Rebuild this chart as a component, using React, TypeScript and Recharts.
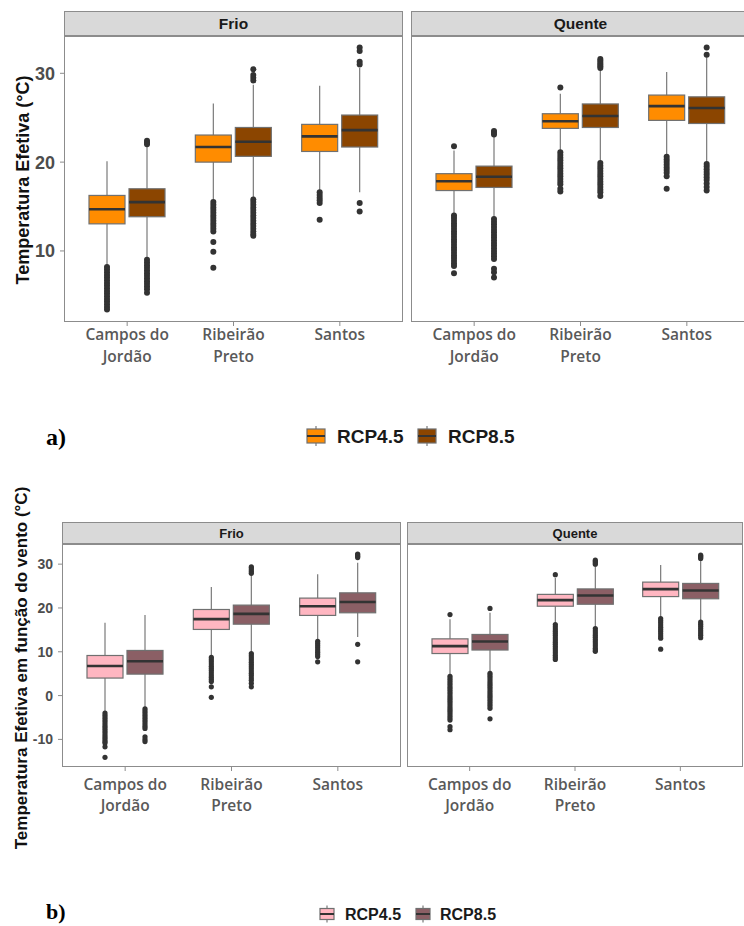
import React from 'react';
import { Bar, ComposedChart, XAxis, YAxis } from 'recharts';

const SANS = '"Liberation Sans", Arial, Helvetica, sans-serif';
const SERIF = '"Liberation Serif", "Times New Roman", serif';
const LABEL_FONT = '"Open Sans", "Noto Sans", sans-serif';

const SITES = ['Campos do Jordão', 'Ribeirão Preto', 'Santos'];
const SITE_LINES = [['Campos do', 'Jordão'], ['Ribeirão', 'Preto'], ['Santos']];
const PERIODS = ['Frio', 'Quente'];
const SCENARIOS = ['RCP4.5', 'RCP8.5'];

const TICKS_A = [10, 20, 30];
const TICKS_B = [-10, 0, 10, 20, 30];
const DOMAIN_A = [2.0, 34.2];
const DOMAIN_B = [-16.3, 34.6];

const COLORS_A = ['#FF8C00', '#8B4500'];
const COLORS_B = ['#FFB6C1', '#8B5F65'];

// a) Temperatura Efetiva: [lower whisker, Q1, median, Q3, upper whisker] per site
const A_FRIO_45 = [[8.4, 13.05, 14.7, 16.25, 20.1], [15.8, 20.0, 21.7, 23.05, 26.6], [16.7, 21.2, 22.9, 24.25, 28.6]];
const A_FRIO_85 = [[9.2, 13.85, 15.5, 17.0, 21.7], [16.0, 20.65, 22.3, 23.9, 28.7], [16.6, 21.7, 23.6, 25.3, 30.6]];
const A_QUENTE_45 = [[14.1, 16.8, 17.85, 18.7, 21.3], [21.2, 23.8, 24.6, 25.45, 27.7], [20.7, 24.7, 26.3, 27.55, 30.15]];
const A_QUENTE_85 = [[13.8, 17.15, 18.35, 19.55, 22.9], [20.0, 23.9, 25.2, 26.55, 30.4], [19.9, 24.35, 26.1, 27.35, 31.8]];

// a) outliers per site
const A_FRIO_45_OUT = [
  [8.2, 7.9, 7.6, 7.3, 7.0, 6.7, 6.4, 6.1, 5.8, 5.5, 5.2, 4.9, 4.6, 4.3, 4.0, 3.7, 3.4],
  [15.5, 15.2, 14.9, 14.6, 14.3, 14.0, 13.7, 13.4, 13.1, 12.8, 12.5, 12.2, 11.0, 9.9, 8.1],
  [16.6, 16.3, 16.0, 15.7, 15.4, 13.5],
];
const A_FRIO_85_OUT = [
  [22.4, 22.2, 22.0, 9.0, 8.7, 8.4, 8.1, 7.8, 7.5, 7.2, 6.9, 6.6, 6.3, 6.0, 5.7, 5.3],
  [30.45, 29.8, 29.5, 29.2, 15.8, 15.5, 15.2, 14.9, 14.6, 14.3, 14.0, 13.7, 13.4, 13.1, 12.8, 12.5, 12.2, 11.9, 11.7],
  [32.9, 32.5, 31.3, 31.0, 15.4, 14.45],
];
const A_QUENTE_45_OUT = [
  [21.8, 14.0, 13.7, 13.4, 13.1, 12.8, 12.5, 12.2, 11.9, 11.6, 11.3, 11.0, 10.7, 10.4, 10.1, 9.8, 9.5, 9.2, 8.9, 8.6, 8.3, 7.5],
  [28.4, 21.1, 20.8, 20.5, 20.2, 19.9, 19.6, 19.3, 19.0, 18.7, 18.4, 18.1, 17.8, 17.5, 17.0, 16.7],
  [20.6, 20.3, 20.0, 19.7, 19.4, 19.1, 18.8, 18.4, 17.0],
];
const A_QUENTE_85_OUT = [
  [23.5, 23.3, 23.1, 13.6, 13.3, 13.0, 12.7, 12.4, 12.1, 11.8, 11.5, 11.2, 10.9, 10.6, 10.3, 10.0, 9.7, 9.4, 9.1, 8.0, 7.6, 7.0],
  [31.6, 31.4, 31.2, 31.0, 30.8, 30.6, 19.9, 19.6, 19.3, 19.0, 18.7, 18.4, 18.1, 17.8, 17.5, 17.2, 16.9, 16.6, 16.2],
  [32.9, 32.1, 19.8, 19.5, 19.2, 18.9, 18.6, 18.3, 18.0, 17.6, 17.2, 16.8],
];

// b) Temperatura Efetiva em função do vento
const B_FRIO_45 = [[-3.8, 4.0, 6.75, 9.15, 16.6], [9.0, 15.1, 17.45, 19.65, 24.8], [12.7, 18.3, 20.4, 22.25, 27.7]];
const B_FRIO_85 = [[-2.8, 4.9, 7.85, 10.3, 18.4], [9.8, 16.3, 18.65, 20.65, 27.7], [13.4, 18.9, 21.35, 23.45, 30.3]];
const B_QUENTE_45 = [[4.6, 9.6, 11.3, 12.95, 17.4], [16.4, 20.4, 21.8, 23.1, 26.9], [17.8, 22.6, 24.3, 25.9, 29.8]];
const B_QUENTE_85 = [[5.4, 10.4, 12.35, 13.95, 18.9], [15.5, 20.85, 22.85, 24.35, 29.8], [17.0, 22.1, 24.0, 25.6, 31.0]];

const B_FRIO_45_OUT = [
  [-4.0, -4.5, -5.0, -5.5, -6.0, -6.5, -7.0, -7.5, -8.0, -8.5, -9.0, -9.5, -10.0, -10.5, -10.8, -11.7, -14.1],
  [8.7, 8.2, 7.7, 7.2, 6.7, 6.2, 5.7, 5.2, 4.7, 4.2, 3.7, 3.2, 2.0, -0.4],
  [12.4, 11.9, 11.4, 10.9, 10.4, 9.9, 9.4, 8.9, 7.7],
];
const B_FRIO_85_OUT = [
  [-3.0, -3.5, -4.0, -4.5, -5.0, -5.5, -6.0, -6.5, -7.0, -7.5, -9.4, -10.0, -10.5],
  [29.4, 29.1, 28.7, 28.3, 27.9, 9.6, 9.1, 8.6, 8.1, 7.6, 7.1, 6.6, 6.1, 5.6, 5.1, 4.6, 4.0, 3.5, 2.8, 2.0],
  [32.3, 32.1, 31.8, 31.5, 11.7, 7.7],
];
const B_QUENTE_45_OUT = [
  [18.5, 4.4, 3.9, 3.4, 2.9, 2.4, 1.9, 1.4, 0.9, 0.4, -0.1, -0.6, -1.1, -1.6, -2.1, -2.6, -3.1, -3.6, -4.1, -4.6, -5.1, -5.6, -7.1, -7.8],
  [27.6, 16.2, 15.7, 15.2, 14.7, 14.2, 13.7, 13.2, 12.7, 12.2, 11.7, 11.2, 10.7, 10.2, 9.7, 9.2, 8.7, 8.25],
  [17.6, 17.1, 16.6, 16.1, 15.6, 15.1, 14.6, 14.1, 13.6, 13.1, 10.6],
];
const B_QUENTE_85_OUT = [
  [19.9, 5.1, 4.6, 4.1, 3.6, 3.1, 2.6, 2.1, 1.6, 1.1, 0.6, 0.1, -0.4, -0.9, -1.4, -1.9, -2.4, -2.9, -5.3],
  [30.9, 30.6, 30.3, 30.0, 15.3, 14.8, 14.3, 13.8, 13.3, 12.8, 12.3, 11.8, 11.3, 10.8, 10.4, 10.1],
  [32.05, 31.8, 31.5, 31.3, 16.8, 16.3, 15.8, 15.3, 14.8, 14.3, 13.8, 13.2],
];

function buildRows(box45: number[][], out45: number[][], box85: number[][], out85: number[][]) {
  return SITES.map((site, i) => ({ site, box45: box45[i], out45: out45[i], box85: box85[i], out85: out85[i] }));
}

// the bar spans the whiskers; the rest of the box is placed on the same pixel scale
function boxShape(boxKey: string, outKey: string, fill: string, dotR: number) {
  return (props: any) => {
    const { x, y, width, height, payload } = props;
    const s = payload[boxKey];
    const out: number[] = payload[outKey];
    const top = Math.min(y, y + height);
    const h = Math.abs(height);
    const k = h / (s[4] - s[0]);
    const py = (v: number) => top + (s[4] - v) * k;
    const cx = x + width / 2;
    return (
      <g>
        <line x1={cx} x2={cx} y1={py(s[4])} y2={py(s[0])} stroke="#7a7a7a" strokeWidth={1.2} />
        <rect x={x} y={py(s[3])} width={width} height={py(s[1]) - py(s[3])} fill={fill} stroke="#707070" strokeWidth={1.2} />
        <line x1={x} x2={x + width} y1={py(s[2])} y2={py(s[2])} stroke="#333333" strokeWidth={2.6} />
        {out.map((v, j) => (
          <circle key={j} cx={cx} cy={py(v)} r={dotR} fill="#333333" />
        ))}
      </g>
    );
  };
}

function SiteTick(props: any) {
  const { x, y, payload, dy1, gap, fontSize } = props;
  const lines = SITE_LINES[SITES.indexOf(payload.value)] || [payload.value];
  return (
    <text x={x} y={y} textAnchor="middle" fill="#595959" fontSize={fontSize} fontWeight={600} fontFamily={LABEL_FONT}>
      {lines.map((line: string, i: number) => (
        <tspan key={i} x={x} dy={i === 0 ? dy1 : gap}>{line}</tspan>
      ))}
    </text>
  );
}

interface PanelProps {
  title: string;
  rows: any[];
  plotLeft: number;
  plotTop: number;
  plotW: number;
  plotH: number;
  stripTop: number;
  stripFont: number;
  yAxisW: number;
  yFont: number;
  domain: number[];
  ticks: number[];
  fills: string[];
  dotR: number;
  labelDy: number;
  labelGap: number;
}

function Panel(p: PanelProps) {
  return (
    <>
      <div
        style={{
          position: 'absolute', left: p.plotLeft, top: p.stripTop, width: p.plotW, height: p.plotTop - p.stripTop,
          boxSizing: 'border-box', background: '#d9d9d9', border: '1px solid #8c8c8c',
          display: 'flex', alignItems: 'center', justifyContent: 'center',
          fontFamily: SANS, fontWeight: 700, fontSize: p.stripFont, color: '#1a1a1a',
        }}
      >
        {p.title}
      </div>
      <div style={{ position: 'absolute', left: p.plotLeft - p.yAxisW, top: p.plotTop }}>
        <ComposedChart
          width={p.yAxisW + p.plotW}
          height={p.plotH + 56}
          data={p.rows}
          margin={{ top: 0, right: 0, bottom: 0, left: 0 }}
          barSize={36}
          barGap={4}
        >
          <XAxis
            dataKey="site"
            type="category"
            interval={0}
            padding={{ left: 10, right: 10 }}
            axisLine={false}
            tickLine={{ stroke: '#8c8c8c' }}
            tickSize={4}
            tickMargin={0}
            height={56}
            tick={(t: any) => <SiteTick {...t} dy1={p.labelDy} gap={p.labelGap} fontSize={15.5} />}
          />
          <YAxis
            type="number"
            domain={p.domain}
            allowDataOverflow
            ticks={p.ticks}
            hide={p.yAxisW === 0}
            width={p.yAxisW}
            axisLine={false}
            tickLine={{ stroke: '#8c8c8c' }}
            tickSize={4}
            tickMargin={5}
            tick={{ fill: '#4d4d4d', fontSize: p.yFont, fontWeight: 700, fontFamily: SANS }}
          />
          <Bar dataKey={(r: any) => [r.box45[0], r.box45[4]]} name={SCENARIOS[0]} shape={boxShape('box45', 'out45', p.fills[0], p.dotR)} isAnimationActive={false} />
          <Bar dataKey={(r: any) => [r.box85[0], r.box85[4]]} name={SCENARIOS[1]} shape={boxShape('box85', 'out85', p.fills[1], p.dotR)} isAnimationActive={false} />
        </ComposedChart>
      </div>
      <div
        style={{
          position: 'absolute', left: p.plotLeft, top: p.plotTop, width: p.plotW, height: p.plotH,
          boxSizing: 'border-box', border: '1px solid #8c8c8c', pointerEvents: 'none',
        }}
      />
    </>
  );
}

function LegendKey({ x, cy, w, h, fill }: { x: number; cy: number; w: number; h: number; fill: string }) {
  return (
    <g>
      <line x1={x + w / 2} x2={x + w / 2} y1={cy - h / 2 - 3} y2={cy + h / 2 + 3} stroke="#7a7a7a" strokeWidth={1.2} />
      <rect x={x} y={cy - h / 2} width={w} height={h} fill={fill} stroke="#707070" strokeWidth={1.2} />
      <line x1={x} x2={x + w} y1={cy} y2={cy} stroke="#333333" strokeWidth={2} />
    </g>
  );
}

const rowsAFrio = buildRows(A_FRIO_45, A_FRIO_45_OUT, A_FRIO_85, A_FRIO_85_OUT);
const rowsAQuente = buildRows(A_QUENTE_45, A_QUENTE_45_OUT, A_QUENTE_85, A_QUENTE_85_OUT);
const rowsBFrio = buildRows(B_FRIO_45, B_FRIO_45_OUT, B_FRIO_85, B_FRIO_85_OUT);
const rowsBQuente = buildRows(B_QUENTE_45, B_QUENTE_45_OUT, B_QUENTE_85, B_QUENTE_85_OUT);

export default function App() {
  const a = { plotTop: 36, plotH: 286, stripTop: 11, stripFont: 15.5, yFont: 18, domain: DOMAIN_A, ticks: TICKS_A, fills: COLORS_A, dotR: 3, labelDy: 14, labelGap: 22 };
  const b = { plotTop: 544, plotH: 223, stripTop: 522, stripFont: 13, yFont: 14, domain: DOMAIN_B, ticks: TICKS_B, fills: COLORS_B, dotR: 2.6, labelDy: 19, labelGap: 21 };
  return (
    <div style={{ position: 'absolute', left: 0, top: 0, width: 744, height: 926, overflow: 'hidden', background: '#ffffff' }}>
      <Panel {...a} title={PERIODS[0]} rows={rowsAFrio} plotLeft={64} plotW={339} yAxisW={64} />
      <Panel {...a} title={PERIODS[1]} rows={rowsAQuente} plotLeft={411} plotW={339} yAxisW={0} />
      <Panel {...b} title={PERIODS[0]} rows={rowsBFrio} plotLeft={62} plotW={339} yAxisW={62} />
      <Panel {...b} title={PERIODS[1]} rows={rowsBQuente} plotLeft={407} plotW={336} yAxisW={0} />
      <svg width={744} height={926} style={{ position: 'absolute', left: 0, top: 0, pointerEvents: 'none' }}>
        <text transform="translate(23,180) rotate(-90)" textAnchor="middle" dominantBaseline="central" fontFamily={SANS} fontWeight={700} fontSize={18} fill="#111">
          Temperatura Efetiva (°C)
        </text>
        <text transform="translate(21,668) rotate(-90)" textAnchor="middle" dominantBaseline="central" fontFamily={SANS} fontWeight={700} fontSize={17} fill="#111">
          Temperatura Efetiva em função do vento (°C)
        </text>

        <text x={46} y={437} dominantBaseline="central" fontFamily={SERIF} fontWeight={700} fontSize={24} fill="#000">a)</text>
        <LegendKey x={307} cy={436} w={18} h={14} fill={COLORS_A[0]} />
        <text x={337} y={436} dominantBaseline="central" fontFamily={SANS} fontWeight={700} fontSize={19} fill="#1a1a1a">{SCENARIOS[0]}</text>
        <LegendKey x={418} cy={436} w={18} h={14} fill={COLORS_A[1]} />
        <text x={448} y={436} dominantBaseline="central" fontFamily={SANS} fontWeight={700} fontSize={19} fill="#1a1a1a">{SCENARIOS[1]}</text>

        <text x={46} y={911} dominantBaseline="central" fontFamily={SERIF} fontWeight={700} fontSize={22} fill="#000">b)</text>
        <LegendKey x={320} cy={914} w={14} h={11} fill={COLORS_B[0]} />
        <text x={345} y={914} dominantBaseline="central" fontFamily={SANS} fontWeight={700} fontSize={16} fill="#1a1a1a">{SCENARIOS[0]}</text>
        <LegendKey x={416} cy={914} w={14} h={11} fill={COLORS_B[1]} />
        <text x={440} y={914} dominantBaseline="central" fontFamily={SANS} fontWeight={700} fontSize={16} fill="#1a1a1a">{SCENARIOS[1]}</text>
      </svg>
    </div>
  );
}
